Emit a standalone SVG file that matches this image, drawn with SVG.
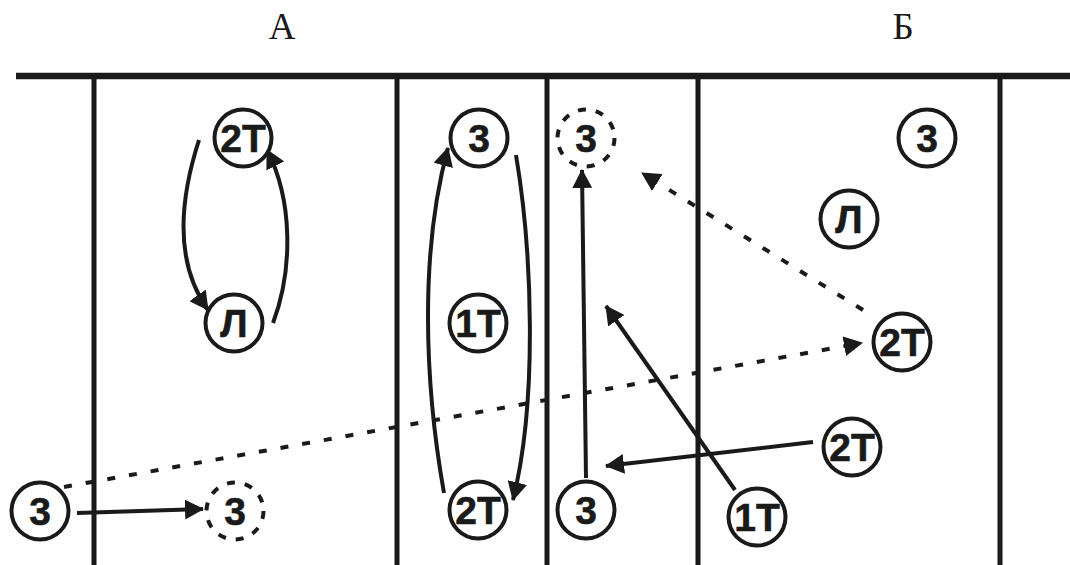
<svg xmlns="http://www.w3.org/2000/svg" width="1070" height="565" viewBox="0 0 1070 565">
<style>
.court{stroke:#1a1a1a;fill:none}
.c{fill:#fff;stroke:#1a1a1a;stroke-width:4}
.d{fill:none;stroke:#1a1a1a;stroke-width:4;stroke-dasharray:8 10}
.t{font-family:"Liberation Sans",Arial,sans-serif;font-weight:bold;font-size:39px;fill:#1a1a1a;stroke:#1a1a1a;stroke-width:0.6;text-anchor:middle}
.lbl{font-family:"Liberation Serif","Times New Roman",serif;font-size:37px;fill:#1a1a1a;text-anchor:middle}
.a{fill:none;stroke:#1a1a1a;stroke-width:4;marker-end:url(#ah)}
.ad{fill:none;stroke:#1a1a1a;stroke-width:4;stroke-dasharray:8 14;marker-end:url(#ah)}
</style>
<defs>
<marker id="ah" markerUnits="userSpaceOnUse" markerWidth="20" markerHeight="20" refX="18" refY="10" orient="auto" viewBox="0 0 20 20">
<path d="M0,0 L19,10 L0,20 z" fill="#1a1a1a"/>
</marker>
</defs>
<rect width="1070" height="565" fill="#fff"/>
<g id="labels">
<text class="lbl" x="282" y="39">А</text>
<text class="lbl" x="903" y="39">Б</text>
</g>
<g id="court" class="court">
<line x1="16" y1="76" x2="1070" y2="76" stroke-width="6.5"/>
<line x1="94" y1="76" x2="94" y2="565" stroke-width="5"/>
<line x1="397" y1="76" x2="397" y2="565" stroke-width="5"/>
<line x1="547" y1="76" x2="547" y2="565" stroke-width="5"/>
<line x1="698" y1="76" x2="698" y2="565" stroke-width="5"/>
<line x1="1000" y1="76" x2="1000" y2="565" stroke-width="5"/>
</g>
<g id="connectors">
<path class="a" d="M199,140 C178,205 176,265 208,310"/>
<path class="a" d="M273,323 C293,270 293,200 267,150"/>
<path class="a" d="M444,493 C424,380 420,250 448,148"/>
<path class="a" d="M516,155 C532,250 538,400 513,500"/>
<path class="a" d="M586,478 L582,170"/>
<path class="a" d="M735,490 L606,306"/>
<path class="a" d="M813,442 L606,466"/>
<path class="ad" d="M863,310 L642,173"/>
<path class="ad" d="M64,487 L862,343"/>
<path class="a" d="M77,513 L203,509"/>
</g>
<g id="n-2t-a"><circle class="c" cx="243" cy="138" r="28.5"/><text class="t" x="243" y="151.5">2Т</text></g>
<g id="n-l-a"><circle class="c" cx="234" cy="323" r="28.5"/><text class="t" x="234" y="336.5">Л</text></g>
<g id="n-3-top"><circle class="c" cx="479" cy="138" r="28.5"/><text class="t" x="479" y="151.5">3</text></g>
<g id="n-3-dash-top"><circle class="d" cx="586" cy="138" r="28.5"/><text class="t" x="586" y="151.5">3</text></g>
<g id="n-1t-mid"><circle class="c" cx="478" cy="323" r="28.5"/><text class="t" x="478" y="336.5">1Т</text></g>
<g id="n-3-b"><circle class="c" cx="927" cy="138" r="28.5"/><text class="t" x="927" y="151.5">3</text></g>
<g id="n-l-b"><circle class="c" cx="849" cy="219" r="28.5"/><text class="t" x="849" y="232.5">Л</text></g>
<g id="n-2t-b"><circle class="c" cx="902" cy="342" r="28.5"/><text class="t" x="902" y="355.5">2Т</text></g>
<g id="n-3-left"><circle class="c" cx="40" cy="511" r="28.5"/><text class="t" x="40" y="524.5">3</text></g>
<g id="n-3-dash-bot"><circle class="d" cx="235" cy="511" r="28.5"/><text class="t" x="235" y="524.5">3</text></g>
<g id="n-2t-bot"><circle class="c" cx="478" cy="510" r="28.5"/><text class="t" x="478" y="523.5">2Т</text></g>
<g id="n-3-bot"><circle class="c" cx="586" cy="510" r="28.5"/><text class="t" x="586" y="523.5">3</text></g>
<g id="n-1t-bot"><circle class="c" cx="757" cy="517" r="28.5"/><text class="t" x="757" y="530.5">1Т</text></g>
<g id="n-2t-low"><circle class="c" cx="852" cy="447" r="28.5"/><text class="t" x="852" y="460.5">2Т</text></g>
</svg>
